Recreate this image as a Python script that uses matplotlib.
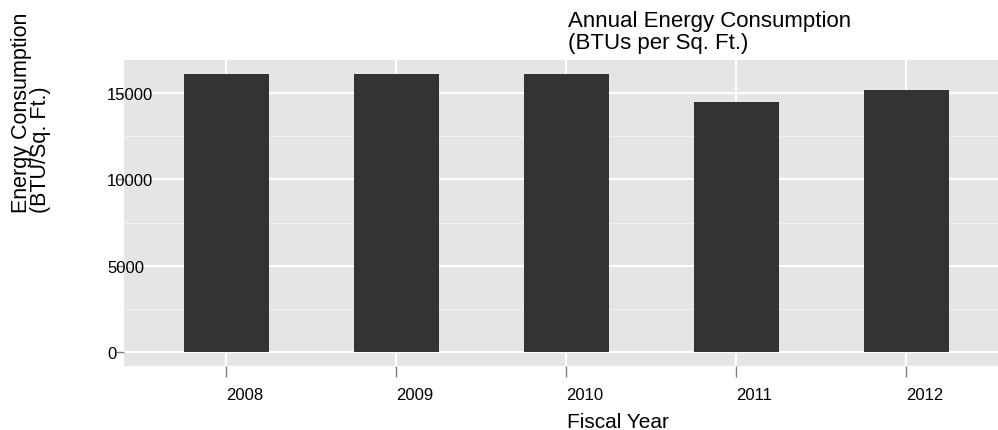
import matplotlib
matplotlib.use("Agg")
import matplotlib.pyplot as plt
import numpy as np

plt.rcParams['font.family'] = ['Liberation Sans', 'DejaVu Sans']

# ---- data ----
years = ['2008', '2009', '2010', '2011', '2012']
energy = [16120, 16120, 16120, 14500, 15190]
y_major = [0, 5000, 10000, 15000]
y_minor = [2500, 7500, 12500]
title = "Annual Energy Consumption\n(BTUs per Sq. Ft.)"
xlabel = "Fiscal Year"
ylabel = "Energy Consumption\n(BTU/Sq. Ft.)"

W, H = 998, 431
fig = plt.figure(figsize=(W / 100, H / 100), dpi=100)
ax = fig.add_axes([124 / W, 1 - 366.7 / H, 874 / W, (366.7 - 61) / H])
ax.set_facecolor('#E5E5E5')

x = np.arange(len(years))
ax.bar(x, energy, width=0.5, color='#333333', zorder=3)

ax.set_xlim(-0.6, 4.541)
ax.set_ylim(-806, 16926)

ax.set_xticks(x)
ax.set_xticklabels(years)
ax.set_yticks(y_major)
ax.set_yticklabels([str(v) for v in y_major])
ax.set_yticks(y_minor, minor=True)

ax.grid(which='major', color='white', linewidth=1.5, zorder=0)
ax.grid(which='minor', axis='y', color='#F2F2F2', linewidth=0.7, zorder=0)
ax.set_axisbelow(True)

for s in ax.spines.values():
    s.set_visible(False)

ax.tick_params(axis='y', which='major', length=5.5, width=1, color='#7F7F7F',
               labelsize=12, pad=6.7, labelcolor='black')
ax.tick_params(axis='y', which='minor', length=0)
ax.tick_params(axis='x', which='major', length=8, width=1, color='#7F7F7F',
               labelsize=12, pad=7.5, labelcolor='black')
for lbl in ax.get_yticklabels():
    lbl.set_horizontalalignment('left')
for lbl in ax.get_xticklabels():
    lbl.set_horizontalalignment('left')

fig.text(568 / W, 1 - 11 / H, title, ha='left', va='top', fontsize=16,
         linespacing=1.05)
fig.text(567 / W, 1 - 428 / H, xlabel, ha='left', va='baseline', fontsize=15)
fig.text(31 / W, 1 - 213 / H, ylabel, rotation=90, rotation_mode='anchor',
         ha='left', va='center', multialignment='left', fontsize=15.5,
         linespacing=0.9)

fig.savefig('out.png', dpi=100)
